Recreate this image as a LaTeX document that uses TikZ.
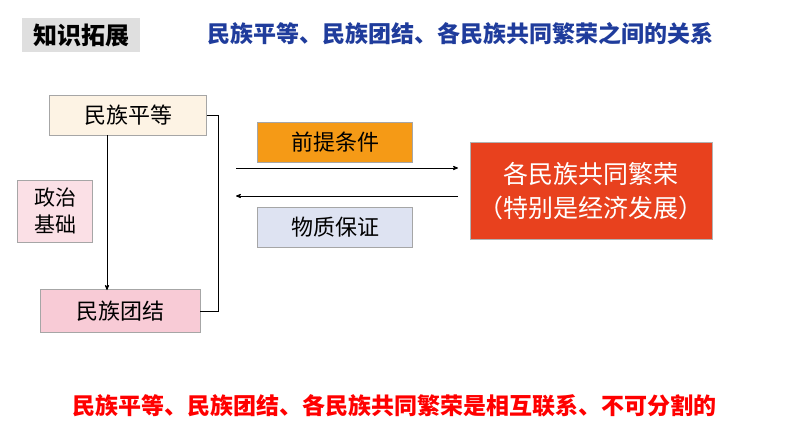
\documentclass[tikz,border=0pt]{standalone}
\usepackage{fontspec}
\setmainfont{Noto Sans CJK SC}
\usetikzlibrary{arrows}
\definecolor{titleblue}{HTML}{1F3C9C}
\definecolor{boxred}{HTML}{E8411E}
\definecolor{boxorange}{HTML}{F59A16}
\definecolor{boxcream}{HTML}{FDF3E4}
\definecolor{boxpink}{HTML}{F8CBD6}
\definecolor{boxlav}{HTML}{DEE3F2}
\begin{document}
\begin{tikzpicture}[x=1pt,y=-1pt,->,>=stealth',thick,
  box/.style={draw=gray!70,thin,minimum height=40pt,inner sep=1pt,font=\fontsize{22}{26}\selectfont}]
  \useasboundingbox[fill=white] (0,0) rectangle (794,447);

  \node[fill=gray!25,minimum width=118pt,minimum height=34pt,font=\bfseries\fontsize{24}{26}\selectfont] (tag) at (81,35) {知识拓展};
  \node[text=titleblue,font=\bfseries\fontsize{23}{26}\selectfont] (title) at (460,34) {民族平等、民族团结、各民族共同繁荣之间的关系};

  \node[box,fill=boxcream,minimum width=157pt] (eq) at (128,115) {民族平等};
  \node[box,fill=boxpink!60,minimum width=75pt,minimum height=62pt,align=center,font=\fontsize{21}{27}\selectfont] (pol) at (55,211) {政治\\基础};
  \node[box,fill=boxpink,minimum width=160pt,minimum height=43pt] (uni) at (120,311) {民族团结};
  \node[box,fill=boxorange,minimum width=155pt] (pre) at (335,142) {前提条件};
  \node[box,fill=boxlav,minimum width=155pt] (mat) at (335,227) {物质保证};
  \node[fill=boxred,draw=gray!60,thin,text=white,minimum width=242pt,minimum height=97pt,inner sep=1pt,align=center,font=\fontsize{25}{34}\selectfont] (pros) at (591,191) {各民族共同繁荣\\（特别是经济发展）};

  \draw (107,135) -- (107,290);
  \draw[-,thin] (eq.east) -- ++(11,0) |- (uni.east);
  \coordinate (ra) at (236,168);
  \coordinate (rb) at (458,168);
  \coordinate (la) at (458,196);
  \coordinate (lb) at (236,196);
  \draw (ra) -- (rb);
  \draw (la) -- (lb);

  \node[text=red,font=\bfseries\fontsize{23}{26}\selectfont] (concl) at (394,406) {民族平等、民族团结、各民族共同繁荣是相互联系、不可分割的};
\end{tikzpicture}
\end{document}
